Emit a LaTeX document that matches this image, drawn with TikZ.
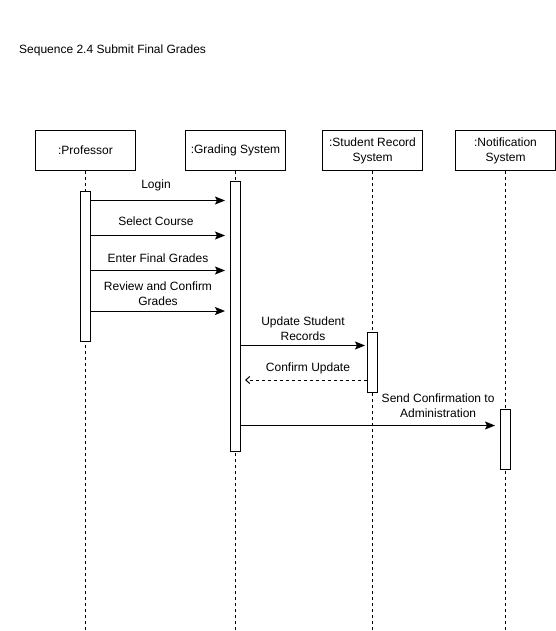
\documentclass[tikz,border=0pt]{standalone}
\usepackage{fontspec}
\setmainfont{Liberation Sans}
\usetikzlibrary{arrows.meta, calc}
\tikzstyle{lifebox} = [draw, line width=1pt, minimum width=100pt, minimum height=40pt,
    inner sep=2pt, align=center, font=\fontsize{12}{15}\selectfont]
\tikzstyle{act} = [draw, line width=1pt, fill=white, minimum width=10pt,
    inner sep=0, anchor=north]
\tikzstyle{lifeline} = [line width=1pt, dash pattern=on 3pt off 3pt]
\tikzstyle{msg} = [line width=1pt, -{Stealth[length=10pt,width=8pt,inset=2pt]}]
\tikzstyle{reply} = [line width=1pt, dash pattern=on 3pt off 3pt,
    -{Straight Barb[length=4pt,width=7pt]}]
\tikzstyle{lbl} = [font=\fontsize{12}{15}\selectfont, align=center, inner sep=0]

\begin{document}
\begin{tikzpicture}[x=1pt, y=-1pt]
\useasboundingbox (0,0) rectangle (556,631);

\node[anchor=base west, inner sep=0, font=\fontsize{12}{15}\selectfont] (title) at (19,53.3) {Sequence 2.4 Submit Final Grades};

%%% LIFELINES
\coordinate (bottom) at (0,631);
\node[lifebox] (prof) at (85.5,150.5) {:Professor};
\node[lifebox] (grad) at (235.5,150.5) {:Grading System};
\node[lifebox] (stud) at (372.5,150.5) {:Student Record\\System};
\node[lifebox] (notif) at (505.5,150.5) {:Notification\\System};

\draw[lifeline] (prof) -- (prof |- bottom);
\draw[lifeline] (grad) -- (grad |- bottom);
\draw[lifeline] (stud) -- (stud |- bottom);
\draw[lifeline] (notif) -- (notif |- bottom);

%%% ACTIVATIONS
\node[act, minimum height=150pt] (pa) at (85.5,190.5) {};
\node[act, minimum height=270pt] (ga) at (235.5,180.5) {};
\node[act, minimum height=60pt] (sa) at (372.5,331.5) {};
\node[act, minimum height=60pt] (na) at (505.5,408.5) {};

%%% MESSAGES
\coordinate (m1) at (0,200.5);
\coordinate (m2) at (0,235.5);
\coordinate (m3) at (0,270.5);
\coordinate (m4) at (0,311);
\coordinate (m5) at (0,345.5);
\coordinate (m6) at (0,380);
\coordinate (m7) at (0,425.5);

\draw[msg] (pa.east |- m1) -- node[lbl, above=6.6pt, xshift=-2pt] {\strut Login} ([xshift=-5pt]ga.west |- m1);
\draw[msg] (pa.east |- m2) -- node[lbl, above=5.2pt, xshift=-2pt] {\strut Select Course} ([xshift=-5pt]ga.west |- m2);
\draw[msg] (pa.east |- m3) -- node[lbl, above=3.4pt] {\strut Enter Final Grades} ([xshift=-5pt]ga.west |- m3);
\draw[msg] (pa.east |- m4) -- node[lbl, above=0.3pt] {\strut Review and Confirm\\\strut Grades} ([xshift=-5pt]ga.west |- m4);

\draw[msg] (ga.east |- m5) -- node[lbl, above=0pt] {\strut Update Student\\\strut Records} ([xshift=-2pt]sa.west |- m5);
\draw[reply] (sa.west |- m6) -- node[lbl, above=3.2pt, xshift=2pt] {\strut Confirm Update} ([xshift=4pt]ga.east |- m6);

\draw[msg] (ga.east |- m7) -- node[lbl, above=3pt, pos=0.776] {\strut Send Confirmation to\\\strut Administration} ([xshift=-5pt]na.west |- m7);

\end{tikzpicture}
\end{document}
